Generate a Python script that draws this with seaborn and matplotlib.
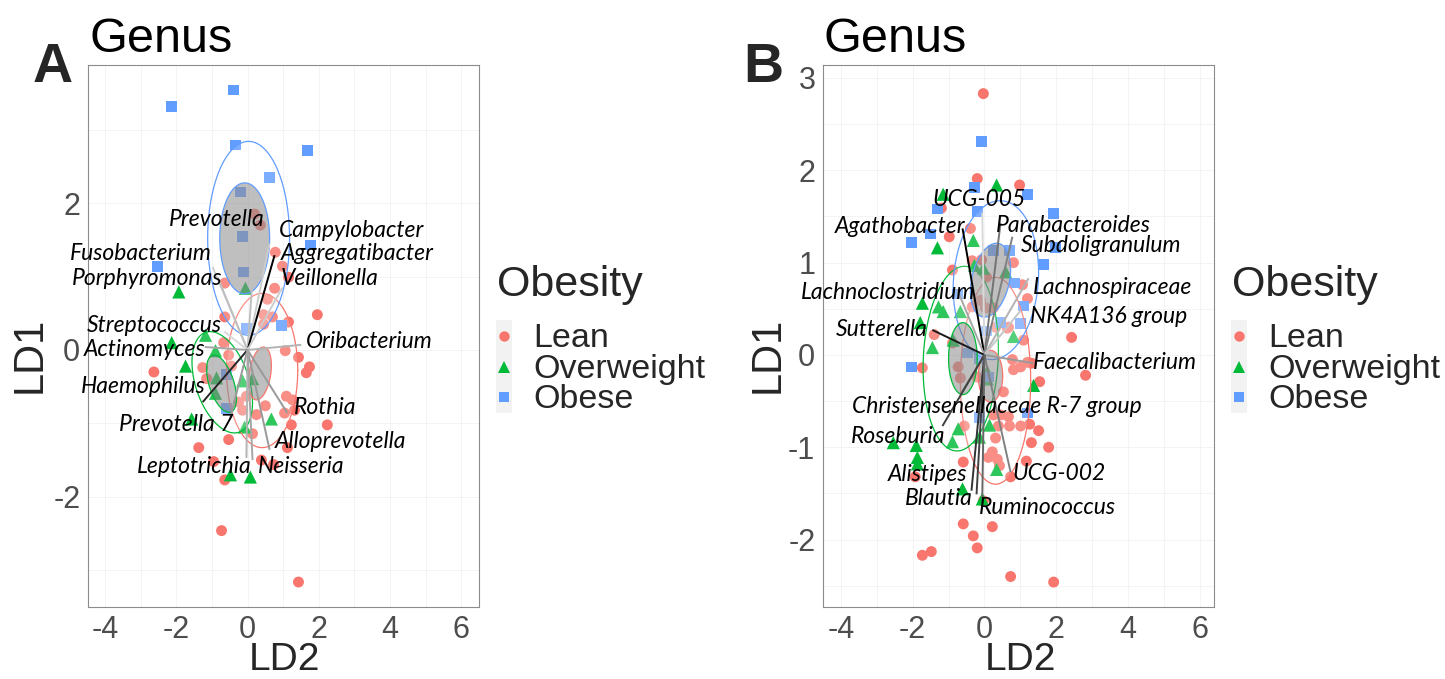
import numpy as np
import pandas as pd
import matplotlib
matplotlib.use("Agg")
import matplotlib.pyplot as plt
import seaborn as sns
from matplotlib.lines import Line2D
from matplotlib.patches import Rectangle

sns.set_theme(style="white")
plt.rcParams["font.family"] = ["Liberation Sans", "DejaVu Sans"]
plt.rcParams["axes.unicode_minus"] = False

# ---------------- Panel A data (LD2, LD1) ----------------
a_lean_x = [0.20, 0.36, 0.78, 0.98, 1.15, -0.64, 0.76, 0.56, 1.96, -0.64, 0.45, 0.70, 0.45, 1.15,
            -0.67, -0.53, 1.06, 1.43, -2.63, -1.26, 1.74, 1.65, -1.15, -0.45, -0.03, -0.25, 0.50,
            1.09, 1.26, 1.32, 1.04, 0.25, -0.14, 1.23, 2.24, 0.14, -0.53, -1.37, 1.12, -0.95, 0.39,
            0.73, -0.64, -0.73, 1.43]
a_lean_y = [1.85, 1.70, 1.33, 1.14, 0.99, 0.91, 0.84, 0.69, 0.48, 0.45, 0.48, 0.45, 0.35, 0.38,
            0.10, -0.07, -0.01, -0.10, -0.30, -0.24, -0.23, -0.31, -0.39, -0.22, -0.63, -0.71, -0.76,
            -0.63, -0.68, -0.82, -0.86, -0.88, -0.82, -1.02, -1.02, -1.14, -1.22, -1.33, -1.33, -1.52, -1.50,
            -1.56, -1.77, -2.46, -3.16]
a_over_x = [-1.93, -0.06, -1.18, -2.13, -0.90, -1.74, -0.87, -0.14, 0.14, -0.90, 0.67, -1.57, -0.08, -0.48, 0.08]
a_over_y = [0.79, 0.84, 0.20, 0.10, -0.01, -0.22, -0.38, -0.42, -0.39, -0.59, -0.94, -0.94, -1.05, -1.70, -1.73]
a_obese_x = [-2.13, -0.39, -0.34, 1.68, 0.62, -0.20, -0.14, -0.11, 1.76, -2.52, -0.03, 0.95, -0.59, -0.59]
a_obese_y = [3.31, 3.54, 2.79, 2.72, 2.35, 2.15, 1.54, 1.06, 1.43, 1.14, 0.29, 0.33, -0.33, -0.80]

a_genus = ["Prevotella", "Campylobacter", "Fusobacterium", "Aggregatibacter", "Porphyromonas",
           "Veillonella", "Streptococcus", "Oribacterium", "Actinomyces", "Haemophilus", "Rothia",
           "Prevotella 7", "Alloprevotella", "Leptotrichia", "Neisseria"]
a_load_x = [0.22, 0.62, -0.98, 0.76, -0.84, 0.98, -0.65, 1.51, -1.20, -1.26, 1.12, -0.50, 0.62, -0.03, 0.14]
a_load_y = [1.50, 1.45, 1.13, 1.29, 0.99, 0.85, 0.25, 0.07, 0.04, -0.71, -0.86, -0.95, -1.36, -1.47, -1.50]
a_load_grey = [0.75, 0.8, 0.82, 0.0, 0.75, 0.8, 0.85, 0.7, 0.65, 0.15, 0.6, 0.6, 0.6, 0.7, 0.65]
a_lab_x = [-0.87, 2.91, -3.00, 3.08, -2.83, 2.30, -2.61, 3.42, -2.89, -2.94, 2.18, -1.99, 2.61, -1.51, 1.51]
a_lab_y = [1.78, 1.62, 1.31, 1.31, 0.97, 0.97, 0.33, 0.12, 0.01, -0.50, -0.79, -1.01, -1.25, -1.59, -1.59]

# ellipses: group, cx, cy, sx, sy, rho
a_ell_outer = {"Lean": (0.41, -0.28, 1.00, 1.05, 0.0),
               "Overweight": (-0.71, -0.44, 0.85, 0.69, -0.4),
               "Obese": (0.03, 1.52, 1.15, 1.32, 0.0)}
a_ell_inner = {"Lean": (0.35, -0.32, 0.32, 0.36, 0.3),
               "Overweight": (-0.73, -0.46, 0.42, 0.39, -0.5),
               "Obese": (-0.08, 1.52, 0.70, 0.755, 0.0)}

# ---------------- Panel B data ----------------
b_lean_x = [-0.03, -0.20, 0.98, -1.20, -0.39, -0.98, -0.08, 0.81, -0.34, -0.89, 0.06, 1.06, 1.20, -0.11,
            -0.34, 0.03, 0.25, 0.67, 2.43, -1.40, -0.89, -1.73, -0.73, -0.67, -0.20, 0.78, 1.01, 0.81,
            1.20, 1.54, 1.09, 0.31, 0.64, 2.82, 1.31, 0.53, 0.45, 0.67, 0.25, 1.01, 1.26, 1.51, 0.39,
            0.70, -0.56, 0.31, 1.31, 1.79, 0.22, 0.11, 0.36, 0.42, 1.17, -0.59, 0.73, -1.93, -0.03,
            0.22, -0.59, -0.31, -0.20, -1.73, -1.48, 0.73, 1.93]
b_lean_y = [2.83, 1.91, 1.84, 1.59, 1.37, 1.28, 1.03, 1.00, 1.02, 0.92, 0.84, 0.76, 0.61, 0.59,
            0.52, 0.51, 0.51, 0.30, 0.19, 0.22, 0.13, -0.14, -0.13, -0.25, -0.24, -0.05, -0.13, -0.16,
            -0.08, -0.29, 0.16, 0.30, 0.29, -0.22, -0.09, -0.40, -0.65, -0.67, -0.65, -0.77, -0.75, -0.82, -0.77,
            -0.77, -0.77, -0.90, -0.95, -1.00, -1.05, -1.11, -1.13, -1.20, -1.15, -1.16, -1.32, -1.32, -1.58,
            -1.86, -1.83, -1.96, -2.09, -2.17, -2.13, -2.40, -2.46]
b_over_x = [-1.15, 0.34, -0.31, -1.31, -0.28, -0.03, 0.59, -1.73, -1.28, -1.15, -0.67, -1.79, 0.81, -1.45,
            -0.87, 0.08, 0.08, 1.37, -0.73, 0.14, -0.14, -0.89, -2.54, -1.90, -1.87, -1.87, 0.34, -0.61, -0.06]
b_over_y = [1.74, 1.84, 1.24, 1.16, 0.97, 0.94, 0.90, 0.56, 0.52, 0.47, 0.47, 0.35, 0.20, 0.08,
            0.16, -0.18, -0.26, -0.33, -0.80, -0.76, -0.89, -0.94, -0.95, -0.98, -1.11, -1.18, -1.24, -1.45, -1.56]
b_obese_x = [-0.08, -0.28, 1.20, 1.93, -1.31, -0.20, -1.51, -2.04, 0.25, 0.70, 1.98, 1.65, 0.84, -0.75,
             1.09, 1.01, 0.45, 0.06, -2.04, -0.47, -0.14, 0.11, -0.14, 1.20]
b_obese_y = [2.31, 1.81, 1.74, 1.53, 1.58, 1.55, 1.31, 1.22, 1.13, 1.13, 1.16, 0.98, 0.78, 0.66,
             0.53, 0.34, 0.35, 0.26, -0.13, 0.02, -0.04, -0.24, -0.68, -0.63]

b_genus = ["UCG-005", "Agathobacter", "Parabacteroides", "Subdoligranulum", "Lachnoclostridium",
           "Lachnospiraceae", "NK4A136 group", "Sutterella", "Faecalibacterium",
           "Christensenellaceae R-7 group", "Roseburia", "UCG-002", "Alistipes", "Blautia", "Ruminococcus"]
b_load_x = [-0.06, -0.61, 0.45, 0.78, -0.75, 1.23, 1.01, -1.45, 1.37, -0.67, -1.17, 0.73, -0.36, -0.22, -0.06]
b_load_y = [1.54, 1.37, 1.43, 1.28, 0.70, 0.83, 0.48, 0.27, -0.09, -0.43, -0.77, -1.27, -1.47, -1.51, -1.56]
b_load_grey = [0.85, 0.0, 0.45, 0.5, 0.65, 0.7, 0.78, 0.1, 0.6, 0.5, 0.25, 0.5, 0.2, 0.25, 0.4]
b_lab_x = [-0.14, -2.35, 2.49, 3.24, -2.70, 3.58, 3.46, -2.85, 3.63, 0.36, -2.40, 2.07, -1.59, -1.26, 1.76]
b_lab_y = [1.68, 1.39, 1.40, 1.19, 0.68, 0.73, 0.42, 0.28, -0.08, -0.56, -0.88, -1.28, -1.29, -1.56, -1.65]

b_ell_outer = {"Lean": (0.31, -0.28, 0.98, 1.12, 0.0),
               "Overweight": (-0.66, -0.04, 1.05, 1.00, 0.1),
               "Obese": (0.32, 0.81, 1.19, 0.86, 0.1)}
b_ell_inner = {"Lean": (0.17, -0.23, 0.34, 0.28, 0.0),
               "Overweight": (-0.60, -0.04, 0.40, 0.39, 0.0),
               "Obese": (0.17, 0.81, 0.56, 0.40, 0.3)}

groups = ["Lean", "Overweight", "Obese"]
palette = {"Lean": "#F8766D", "Overweight": "#00BA38", "Obese": "#619CFF"}
markers = {"Lean": "o", "Overweight": "^", "Obese": "s"}
msize = {"Lean": 62, "Overweight": 90, "Obese": 60}


def make_df(lx, ly, ox, oy, bx, by):
    return pd.concat([
        pd.DataFrame({"LD2": lx, "LD1": ly, "Obesity": "Lean"}),
        pd.DataFrame({"LD2": ox, "LD1": oy, "Obesity": "Overweight"}),
        pd.DataFrame({"LD2": bx, "LD1": by, "Obesity": "Obese"}),
    ], ignore_index=True)


def ellipse_xy(cx, cy, sx, sy, rho, n=240):
    t = np.linspace(0, 2 * np.pi, n)
    x = cx + sx * np.cos(t)
    y = cy + sy * (rho * np.cos(t) + np.sqrt(1 - rho ** 2) * np.sin(t))
    return x, y


W, H = 1445, 679
fig = plt.figure(figsize=(W / 100, H / 100), dpi=100)


def panel(left_px, df, ell_outer, ell_inner, genus, lx, ly, lg, tx, ty, xlim, ylim, yticks, ystep):
    ax = fig.add_axes([left_px / W, 1 - 607 / H, 391 / W, (607 - 65) / H])
    for g in groups:
        sub = df[df["Obesity"] == g]
        sns.scatterplot(data=sub, x="LD2", y="LD1", color=palette[g], marker=markers[g],
                        s=msize[g], edgecolor="none", linewidth=0, legend=False, ax=ax, zorder=2)
    for g in groups:
        x, y = ellipse_xy(*ell_outer[g])
        ax.fill(x, y, facecolor="white", alpha=0.18, edgecolor="none", zorder=3)
        ax.plot(x, y, color=palette[g], lw=0.9, zorder=3)
    for g in groups:
        x, y = ellipse_xy(*ell_inner[g])
        ax.fill(x, y, facecolor="#808080", alpha=0.5, edgecolor="none", zorder=4)
        ax.plot(x, y, color=palette[g], lw=0.9, zorder=4)
    for ex, ey, gr in zip(lx, ly, lg):
        ax.plot([0, ex], [0, ey], color=str(gr), lw=1.4, zorder=5, solid_capstyle="butt")
    for name, x, y in zip(genus, tx, ty):
        ax.text(x, y, name, ha="center", va="center", style="italic", family=["Lato", "DejaVu Sans"],
                fontsize=16.5, color="black", zorder=6)
    ax.set_xticks([-4, -2, 0, 2, 4, 6])
    ax.set_yticks(yticks)
    ax.set_xticks(np.arange(-5, 8, 1), minor=True)
    ax.set_yticks(np.arange(-4, 5, ystep), minor=True)
    ax.set_xlim(*xlim)
    ax.set_ylim(*ylim)
    ax.grid(True, which="both", color="#F3F3F3", lw=0.6, zorder=0)
    ax.set_axisbelow(True)
    ax.set_xlabel("")
    ax.set_ylabel("")
    for sp in ax.spines.values():
        sp.set_color("#8C8C8C")
        sp.set_linewidth(0.8)
    ax.tick_params(which="major", direction="out", length=4, width=0.8, color="#555555",
                   labelcolor="#4D4D4D", labelsize=22, pad=2)
    ax.tick_params(which="minor", length=0)
    ax.tick_params(axis="y", pad=1.5)
    return ax


df_a = make_df(a_lean_x, a_lean_y, a_over_x, a_over_y, a_obese_x, a_obese_y)
df_b = make_df(b_lean_x, b_lean_y, b_over_x, b_over_y, b_obese_x, b_obese_y)

axA = panel(88, df_a, a_ell_outer, a_ell_inner, a_genus, a_load_x, a_load_y, a_load_grey,
            a_lab_x, a_lab_y, (-4.48, 6.5), (-3.5, 3.88), [-2, 0, 2], 1.0)
axB = panel(823, df_b, b_ell_outer, b_ell_inner, b_genus, b_load_x, b_load_y, b_load_grey,
            b_lab_x, b_lab_y, (-4.5, 6.4), (-2.73, 3.14), [-2, -1, 0, 1, 2, 3], 0.5)

# titles, panel letters, axis labels
for x0, letter_x, ylab_x in [(0, 33, 30), (735, 743, 768)]:
    letter = "A" if x0 == 0 else "B"
    fig.text((x0 + 89) / W, 1 - 52 / H, "Genus", fontsize=35, ha="left", va="baseline", color="black")
    fig.text(letter_x / W, 1 - 82 / H, letter, fontsize=40, fontweight="bold", ha="left", va="baseline")
    fig.text((x0 + 285) / W, 1 - 670 / H, "LD2", fontsize=28, ha="center", va="baseline")
    fig.text(ylab_x / W, 1 - 355 / H, "LD1", fontsize=30, ha="center", va="center", rotation=90)
    # legend
    fig.text((x0 + 497) / W, 1 - 296 / H, "Obesity", fontsize=31, ha="left", va="baseline")
    fig.add_artist(Rectangle(((x0 + 496) / W, 1 - 413 / H), 16 / W, 93 / H, transform=fig.transFigure,
                             facecolor="#F2F2F2", edgecolor="none"))
    for g, yc in zip(groups, [336, 367, 397]):
        fig.add_artist(Line2D([(x0 + 504) / W], [1 - yc / H], marker=markers[g], color=palette[g],
                              markersize=np.sqrt(msize[g]) * 0.95, linestyle="none",
                              markeredgewidth=0, transform=fig.transFigure))
        fig.text((x0 + 533) / W, 1 - (yc + 11) / H, g, fontsize=24.5, ha="left", va="baseline")

fig.savefig("out.png", dpi=100)
